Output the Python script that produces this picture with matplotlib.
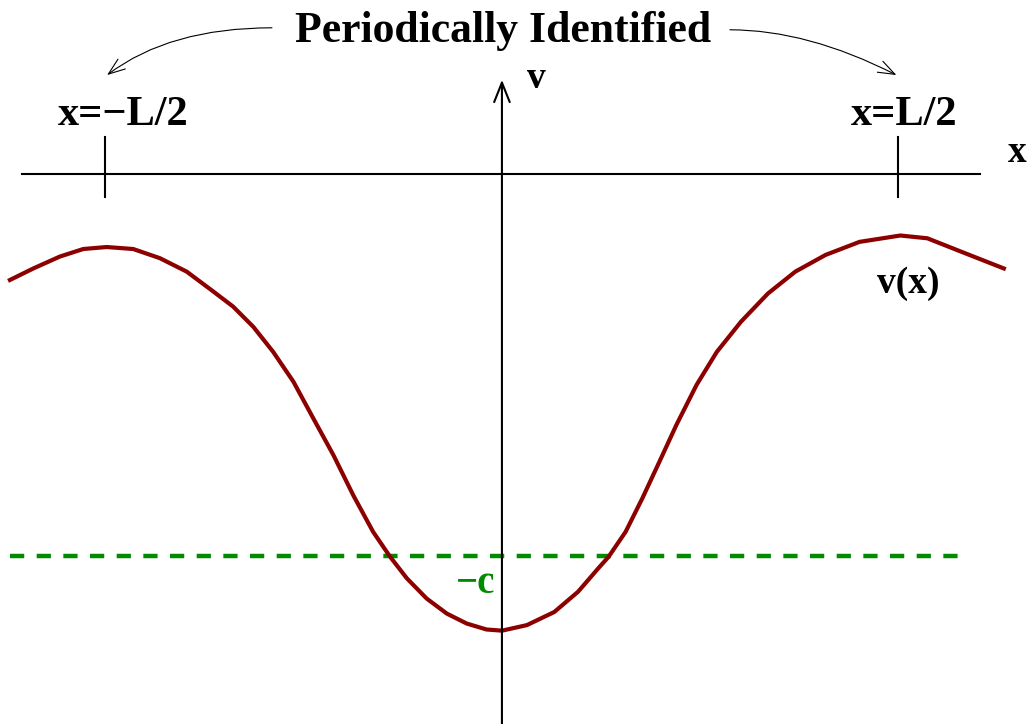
import numpy as np
import matplotlib
matplotlib.use('Agg')
import matplotlib.pyplot as plt

# curve v(x), x in units of L/2
x_vals = [-1.241, -1.182, -1.115, -1.056, -0.997, -0.930, -0.863, -0.795, -0.728, -0.678,
          -0.627, -0.577, -0.526, -0.476, -0.425, -0.375, -0.325, -0.282, -0.240, -0.190,
          -0.139, -0.089, -0.039, 0.0,
          0.063, 0.132, 0.192, 0.243, 0.269, 0.312, 0.354, 0.397, 0.440, 0.491,
          0.542, 0.603, 0.671, 0.740, 0.816, 0.902, 1.005, 1.073, 1.159, 1.266]
v_vals = [-0.267, -0.238, -0.208, -0.189, -0.184, -0.189, -0.212, -0.246, -0.296, -0.334,
          -0.385, -0.448, -0.523, -0.615, -0.708, -0.809, -0.901, -0.964, -1.018, -1.069,
          -1.107, -1.132, -1.147, -1.150,
          -1.136, -1.103, -1.052, -0.993, -0.964, -0.901, -0.817, -0.725, -0.632, -0.531,
          -0.448, -0.372, -0.301, -0.246, -0.204, -0.171, -0.155, -0.162, -0.196, -0.238]

c_level = -0.962
c_span = [-1.241, 1.155]
tick_pos = [-1.0, 1.0]
tick_labels = ['x=\u2212L/2', 'x=L/2']
label_x = [-0.955, 1.014]

red = '#8c0000'
green = '#008c00'
font = 'Liberation Serif'

fig = plt.figure(figsize=(10.34, 7.24), dpi=100)
ax = fig.add_axes([0, 0, 1, 1])
ax.set_xlim(-1.266, 1.342)
ax.set_ylim(-1.385, 0.438)
ax.axis('off')

# axes
ax.plot([-1.211, 1.206], [0, 0], color='black', lw=1.5)
ax.annotate('', xy=(0, 0.237), xytext=(0, -1.4),
            arrowprops=dict(arrowstyle='->,head_length=0.7,head_width=0.28', lw=1.5,
                            color='black', shrinkA=0, shrinkB=0, mutation_scale=20))
for t, lx, lab in zip(tick_pos, label_x, tick_labels):
    ax.plot([t, t], [0.093, -0.058], color='black', lw=1.5)
    ax.text(lx, 0.123, lab, ha='center', va='baseline',
            fontsize=30.5, fontweight='bold', family=font)

ax.text(1.299, 0.030, 'x', ha='center', va='baseline', fontsize=27, fontweight='bold', family=font)
ax.text(0.088, 0.217, 'v', ha='center', va='baseline', fontsize=27, fontweight='bold', family=font)

# curve and level
ax.plot(c_span, [c_level, c_level], color=green, lw=3.2, ls=(0, (3.2, 2.8)))
ax.plot(x_vals, v_vals, color=red, lw=3, solid_joinstyle='round')
ax.text(1.026, -0.300, 'v(x)', ha='center', va='baseline', fontsize=27, fontweight='bold', family=font)
ax.text(-0.066, -1.055, '\u2212c', ha='center', va='baseline', fontsize=28, fontweight='bold',
        family=font, color=green)

# title with curved arrows
ax.text(0.003, 0.332, 'Periodically Identified', ha='center', va='baseline',
        fontsize=31.5, fontweight='bold', family=font)
arrow_kw = dict(arrowstyle='->,head_length=0.6,head_width=0.22', lw=0.8, color='black',
                shrinkA=0, shrinkB=0, mutation_scale=20)
ax.annotate('', xy=(-0.996, 0.249), xytext=(-0.580, 0.368),
            arrowprops=dict(connectionstyle='angle3,angleA=0,angleB=37', **arrow_kw))
ax.annotate('', xy=(0.995, 0.249), xytext=(0.575, 0.363),
            arrowprops=dict(connectionstyle='angle3,angleA=0,angleB=-27', **arrow_kw))

fig.savefig('out.png', dpi=100)
